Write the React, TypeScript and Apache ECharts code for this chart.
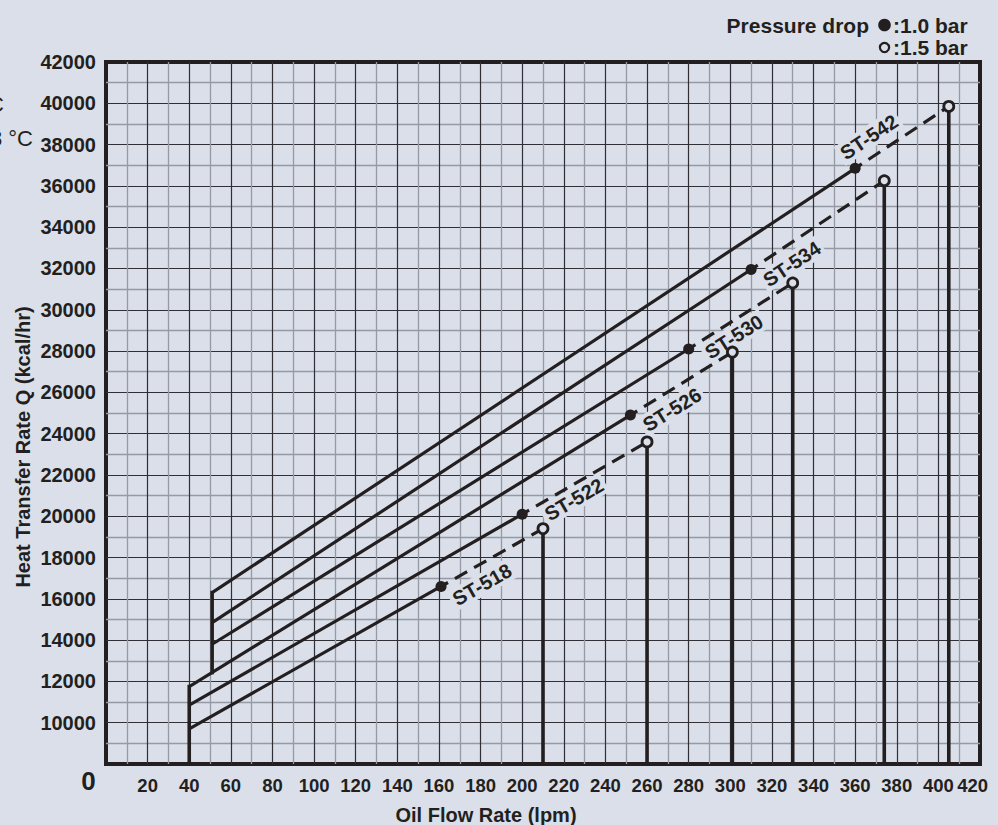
import React, { useEffect, useRef } from "react";
import * as echarts from "echarts";

// ---- data ----
const MODELS = ["ST-518", "ST-522", "ST-526", "ST-530", "ST-534", "ST-542"];
const START_X = [40, 40, 40, 51, 51, 51];
const START_Q = [9700, 10850, 11750, 13800, 14850, 16300];
const DOT_X = [161, 200, 252, 280, 310, 360]; // pressure drop 1.0 bar
const DOT_Q = [16600, 20100, 24900, 28100, 31950, 36850];
const OPEN_X = [210, 260, 301, 330, 374, 405]; // pressure drop 1.5 bar
const OPEN_Q = [19400, 23600, 27950, 31300, 36250, 39850];
const LABEL_X = [180.7, 224.9, 272, 301.8, 329.6, 366.7];
const LABEL_Q = [16690, 20810, 25160, 28690, 32220, 38365];
const STEM_X = [40, 51];
const STEM_BOTTOM = [8000, 12430];
const STEM_TOP = [11750, 16300];
const X_MIN = 0;
const X_MAX = 420;
const X_STEP = 20;
const Q_MIN = 8000;
const Q_MAX = 42000;
const Q_STEP = 2000;

const BG = "#dadfe9";
const INK = "#231f20";
const FONT = "'Liberation Sans', Arial, Helvetica, sans-serif";

function buildOption(angles: number[]) {
  const series: any[] = [];
  // label series (below the lines so the background only masks grid)
  series.push({
    type: "scatter",
    z: 1,
    symbolSize: 0,
    silent: true,
    itemStyle: { opacity: 1 },
    data: MODELS.map((m, i) => ({
      name: m,
      value: [LABEL_X[i], LABEL_Q[i]],
      label: { rotate: angles[i] },
    })),
    label: {
      show: true,
      position: "inside",
      formatter: "{b}",
      fontSize: 20,
      fontWeight: "bold",
      fontFamily: FONT,
      color: INK,
      opacity: 1,
      backgroundColor: BG,
      padding: [1, 3],
    },
  });
  STEM_X.forEach((x, i) => {
    series.push({
      type: "line",
      z: 3,
      symbol: "none",
      data: [
        [x, STEM_BOTTOM[i]],
        [x, STEM_TOP[i]],
      ],
      lineStyle: { color: INK, width: 3.6, cap: "square" },
    });
  });
  MODELS.forEach((m, i) => {
    series.push({
      type: "line",
      z: 3,
      symbol: "none",
      data: [
        [START_X[i], START_Q[i]],
        [DOT_X[i], DOT_Q[i]],
      ],
      lineStyle: { color: INK, width: 3.2 },
    });
    series.push({
      type: "line",
      z: 3,
      symbol: "none",
      data: [
        [DOT_X[i], DOT_Q[i]],
        [OPEN_X[i], OPEN_Q[i]],
      ],
      lineStyle: { color: INK, width: 3.2, type: [14, 8], dashOffset: 6 },
    });
    series.push({
      type: "line",
      z: 3,
      symbol: "none",
      data: [
        [OPEN_X[i], OPEN_Q[i]],
        [OPEN_X[i], Q_MIN],
      ],
      lineStyle: { color: INK, width: 3.6 },
    });
  });
  series.push({
    type: "scatter",
    z: 5,
    symbol: "circle",
    symbolSize: 11,
    itemStyle: { color: INK, opacity: 1 },
    data: DOT_X.map((x, i) => [x, DOT_Q[i]]),
  });
  series.push({
    type: "scatter",
    z: 5,
    symbol: "circle",
    symbolSize: 10,
    itemStyle: { color: BG, borderColor: INK, borderWidth: 2.8, opacity: 1 },
    data: OPEN_X.map((x, i) => [x, OPEN_Q[i]]),
  });

  const tickLabel = {
    fontSize: 20,
    fontWeight: "bold",
    fontFamily: FONT,
    color: INK,
  };
  const xTickLabel = { ...tickLabel, fontSize: 18.5 };
  const major = { color: "#2f2f35", width: 1.2 };
  const minor = { color: "#959aa4", width: 1.3 };

  return {
    animation: false,
    backgroundColor: BG,
    grid: {
      left: 106,
      right: 18,
      top: 62,
      bottom: 61,
      show: true,
      backgroundColor: BG,
      borderColor: INK,
      borderWidth: 4,
    },
    xAxis: [
      {
        type: "value",
        min: X_MIN,
        max: X_MAX,
        interval: X_STEP,
        axisLine: { show: false },
        axisTick: { show: false },
        axisLabel: {
          ...xTickLabel,
          margin: 12,
          formatter: (v: number) => (v === X_MIN || v === X_MAX ? "" : String(v)),
        },
        splitLine: {
          show: true,
          showMinLine: false,
          showMaxLine: false,
          lineStyle: major,
        },
        minorTick: { show: false, splitNumber: 2 },
        minorSplitLine: { show: true, lineStyle: minor },
      },
      {
        // carries only the last tick label, right-aligned at the plot edge
        type: "value",
        position: "bottom",
        min: X_MIN,
        max: X_MAX,
        interval: X_STEP,
        axisLine: { show: false },
        axisTick: { show: false },
        splitLine: { show: false },
        axisLabel: {
          ...xTickLabel,
          margin: 12,
          showMaxLabel: true,
          alignMaxLabel: "right",
          padding: [0, -8, 0, 0],
          formatter: (v: number) => (v === X_MAX ? String(v) : ""),
        },
      },
    ],
    yAxis: {
      type: "value",
      min: Q_MIN,
      max: Q_MAX,
      interval: Q_STEP,
      axisLine: { show: false },
      axisTick: { show: false },
      axisLabel: {
        ...tickLabel,
        margin: 10,
        showMaxLabel: true,
        formatter: (v: number) => (v === Q_MIN ? "" : String(v)),
      },
      splitLine: {
        show: true,
        showMinLine: false,
        showMaxLine: false,
        lineStyle: major,
      },
      minorTick: { show: false, splitNumber: 2 },
      minorSplitLine: { show: true, lineStyle: minor },
    },
    graphic: [
      {
        type: "text",
        x: 88.5,
        y: 781,
        style: {
          text: "0",
          font: `bold 26px ${FONT}`,
          fill: INK,
          textAlign: "center",
          textVerticalAlign: "middle",
        },
      },
      {
        type: "text",
        x: 486,
        y: 815,
        style: {
          text: "Oil Flow Rate (lpm)",
          font: `bold 20px ${FONT}`,
          fill: INK,
          textAlign: "center",
          textVerticalAlign: "middle",
        },
      },
      {
        type: "text",
        x: 23,
        y: 447,
        rotation: Math.PI / 2,
        style: {
          text: "Heat Transfer Rate Q (kcal/hr)",
          font: `bold 20px ${FONT}`,
          fill: INK,
          textAlign: "center",
          textVerticalAlign: "middle",
        },
      },
      {
        type: "text",
        x: 869,
        y: 25,
        style: {
          text: "Pressure drop",
          font: `bold 21px ${FONT}`,
          fill: INK,
          textAlign: "right",
          textVerticalAlign: "middle",
        },
      },
      {
        type: "circle",
        shape: { cx: 884.5, cy: 25, r: 6.3 },
        style: { fill: INK },
      },
      {
        type: "text",
        x: 893,
        y: 25,
        style: {
          text: ":1.0 bar",
          font: `bold 21px ${FONT}`,
          fill: INK,
          textAlign: "left",
          textVerticalAlign: "middle",
        },
      },
      {
        type: "circle",
        shape: { cx: 884.5, cy: 47.5, r: 4.6 },
        style: { fill: BG, stroke: INK, lineWidth: 2.2 },
      },
      {
        type: "text",
        x: 893,
        y: 47,
        style: {
          text: ":1.5 bar",
          font: `bold 21px ${FONT}`,
          fill: INK,
          textAlign: "left",
          textVerticalAlign: "middle",
        },
      },
      {
        type: "text",
        x: 4,
        y: 104,
        style: {
          text: "Oil inlet temp. 60 °C",
          font: `22px ${FONT}`,
          fill: INK,
          textAlign: "right",
          textVerticalAlign: "middle",
        },
      },
      {
        type: "text",
        x: 33,
        y: 138,
        style: {
          text: "Water inlet temp. 28 °C",
          font: `22px ${FONT}`,
          fill: INK,
          textAlign: "right",
          textVerticalAlign: "middle",
        },
      },
      {
        type: "text",
        x: 515,
        y: -3,
        style: {
          text: "Water Flow Rate (lpm)",
          font: `bold 20px ${FONT}`,
          fill: "#8a8d94",
          textAlign: "right",
          textVerticalAlign: "bottom",
        },
      },
    ],
    series,
  };
}

export default function App() {
  const ref = useRef<HTMLDivElement>(null);
  useEffect(() => {
    document.body.style.margin = "0";
    document.body.style.background = BG;
    if (!ref.current) return;
    const chart = echarts.init(ref.current, undefined, { renderer: "svg" });
    chart.setOption(buildOption(MODELS.map(() => 32)));
    const angles = MODELS.map((_, i) => {
      const p1 = chart.convertToPixel({ gridIndex: 0 }, [DOT_X[i], DOT_Q[i]]) as number[];
      const p2 = chart.convertToPixel({ gridIndex: 0 }, [OPEN_X[i], OPEN_Q[i]]) as number[];
      return (Math.atan2(p1[1] - p2[1], p2[0] - p1[0]) * 180) / Math.PI;
    });
    chart.setOption(buildOption(angles), true);
    return () => chart.dispose();
  }, []);
  return <div ref={ref} style={{ width: 998, height: 825 }} />;
}
